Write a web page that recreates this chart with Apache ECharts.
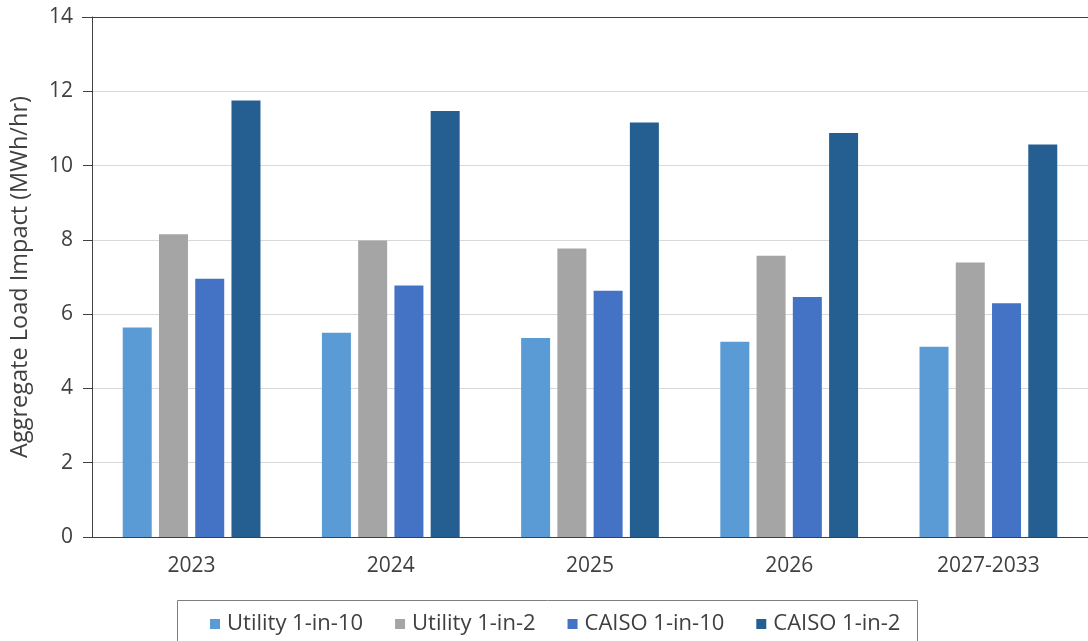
<!DOCTYPE html>
<html>
<head>
<meta charset="utf-8">
<script src="https://cdn.jsdelivr.net/npm/echarts@6/dist/echarts.min.js"></script>
<style>
  html, body { margin: 0; padding: 0; background: #fff; }
  #chart { width: 1088px; height: 641px; }
</style>
</head>
<body>
<div id="chart"></div>
<script>
// Aggregate load impact forecast by year, MWh/hr
const categories = ['2023', '2024', '2025', '2026', '2027-2033'];
const utility1in10 = [5.64, 5.50, 5.36, 5.26, 5.12];
const utility1in2  = [8.15, 7.98, 7.77, 7.57, 7.39];
const caiso1in10   = [6.95, 6.77, 6.63, 6.46, 6.29];
const caiso1in2    = [11.75, 11.47, 11.16, 10.88, 10.57];
const seriesNames  = ['Utility 1-in-10', 'Utility 1-in-2', 'CAISO 1-in-10', 'CAISO 1-in-2'];
const yTicks = { min: 0, max: 14, interval: 2 };

const FONT = 'Open Sans';
const TEXT = '#404040';
const colors = ['#5B9BD5', '#A5A5A5', '#4472C4', '#255E91'];

function bar(name, data, color) {
  return {
    name: name,
    type: 'bar',
    data: data,
    barWidth: 29,
    barGap: '25%',
    itemStyle: { color: color },
    animation: false
  };
}

const chart = echarts.init(document.getElementById('chart'), null, { renderer: 'canvas' });
chart.setOption({
  animation: false,
  textStyle: { fontFamily: FONT, color: TEXT },
  grid: { left: 91, top: 17, right: -6, bottom: 104, containLabel: false },
  legend: {
    data: seriesNames,
    left: 205,
    top: 608,
    itemWidth: 10,
    itemHeight: 10,
    itemGap: 32,
    icon: 'rect',
    textStyle: { fontFamily: FONT, fontSize: 22, color: TEXT, padding: [0, 0, 0, 2] }
  },
  xAxis: {
    type: 'category',
    data: categories,
    axisLine: { show: true, lineStyle: { color: '#404040', width: 1 } },
    axisTick: { show: false },
    axisLabel: { fontFamily: FONT, fontSize: 21, color: TEXT, margin: 19 }
  },
  yAxis: {
    type: 'value',
    min: yTicks.min,
    max: yTicks.max,
    interval: yTicks.interval,
    name: 'Aggregate Load Impact (MWh/hr)',
    nameLocation: 'middle',
    nameGap: 60,
    nameTextStyle: { fontFamily: FONT, fontSize: 23.5, color: TEXT },
    axisLine: { show: true, lineStyle: { color: '#404040', width: 1 } },
    axisTick: { show: true, length: 9, lineStyle: { color: '#404040' } },
    axisLabel: { fontFamily: FONT, fontSize: 21, color: TEXT, margin: 19 },
    splitLine: { show: true, lineStyle: { color: '#d9d9d9', width: 1.2 } }
  },
  series: [
    bar(seriesNames[0], utility1in10, colors[0]),
    bar(seriesNames[1], utility1in2, colors[1]),
    bar(seriesNames[2], caiso1in10, colors[2]),
    bar(seriesNames[3], caiso1in2, colors[3])
  ]
});

// legend frame and the top border of the plot area at the 14 line
const topY = chart.convertToPixel({ yAxisIndex: 0 }, yTicks.max);
chart.setOption({
  graphic: [{
    type: 'rect',
    shape: { x: 177.5, y: 600.5, width: 740, height: 60 },
    style: { fill: 'none', stroke: '#7f7f7f', lineWidth: 1 },
    silent: true
  }, {
    type: 'line',
    shape: { x1: 82, y1: Math.round(topY) + 0.5, x2: 1088, y2: Math.round(topY) + 0.5 },
    style: { stroke: '#404040', lineWidth: 1 },
    silent: true,
    z: 10
  }]
});
</script>
</body>
</html>
